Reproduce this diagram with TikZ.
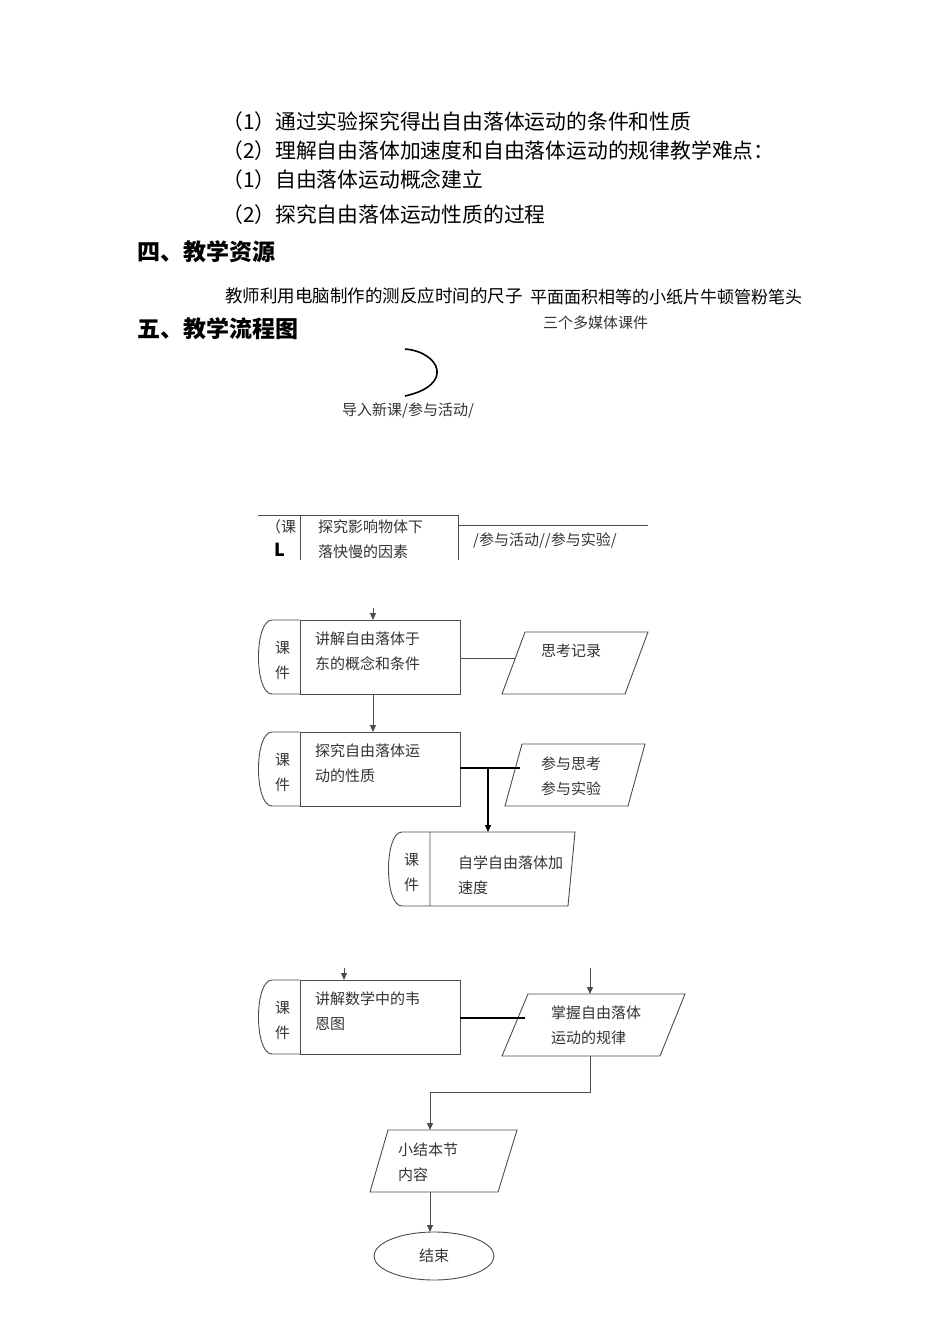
\documentclass[tikz,border=0pt]{standalone}
\usepackage{fontspec}
\setmainfont{Noto Sans CJK SC}
\usetikzlibrary{arrows.meta}
\begin{document}
\begin{tikzpicture}[x=1pt,y=-1pt,
 body/.style={anchor=west,inner sep=0pt,font=\fontsize{20.8}{24}\selectfont},
 head/.style={anchor=west,inner sep=0pt,font=\fontsize{23}{26}\selectfont\bfseries},
 small/.style={anchor=west,inner sep=0pt,font=\fontsize{15}{18}\selectfont,text=black!80},
 ln/.style={line width=0.9pt,black!70},
 thick ln/.style={line width=2pt},
 arr/.style={ln,-{Triangle[length=7pt,width=6pt]}}]
\useasboundingbox (0,0) rectangle (950,1344);
\node[body] (l1) at (222,122) {（1）通过实验探究得出自由落体运动的条件和性质};
\node[body] (l2) at (222,151) {（2）理解自由落体加速度和自由落体运动的规律教学难点：};
\node[body] (l3) at (222,180) {（1）自由落体运动概念建立};
\node[body] (l4) at (222,215) {（2）探究自由落体运动性质的过程};
\node[head] (h4) at (137,252) {四、教学资源};
\node[body,font=\fontsize{17.5}{19}\selectfont] (t1) at (225,296) {教师利用电脑制作的测反应时间的尺子};
\node[body,font=\fontsize{17}{19}\selectfont] (t2) at (530,297) {平面面积相等的小纸片牛顿管粉笔头};
\node[small] (t3) at (543,323) {三个多媒体课件};
\node[head] (h5) at (137,329) {五、教学流程图};
\draw[line width=1.6pt] (405,349) .. controls (440,352) and (455,385) .. (405,396);
\node[small] (dr) at (342,410) {导入新课/参与活动/};
% row 1
\draw[ln] (258,515) -- (458,515) (300,515) -- (300,560) (458,515) -- (458,560) (458,525) -- (648,525);
\node[small] (k0) at (266,527) {（课};
\node[inner sep=0pt,font=\fontsize{18}{20}\selectfont\bfseries] (L) at (280,550) {L};
\node[small] (r1a) at (318,527) {探究影响物体下};
\node[small] (r1b) at (318,552) {落快慢的因素};
\node[small] (r1c) at (473,540) {/参与活动//参与实验/};
% box1
\draw[ln] (300,620) -- (460,620) -- (460,694) -- (300,694) (300,620) -- (300,694);
\draw[ln] (300,620) -- (272,620) .. controls (254,620) and (254,694) .. (272,694) -- (300,694);
\node[small] (c1) at (275,648) {课}; \node[small] (c2) at (275,673) {件};
\node[small] (b1a) at (315,639) {讲解自由落体于};
\node[small] (b1b) at (315,664) {东的概念和条件};
\draw[arr] (373,608) -- (373,620);
\draw[ln] (502,694) -- (525,632) -- (648,632) -- (625,694) -- cycle;
\node[small] (p1) at (541,651) {思考记录};
\draw[ln] (460,658) -- (515,658);
\draw[arr] (373,694) -- (373,732);
% box2
\draw[ln] (300,732) -- (460,732) -- (460,806) -- (300,806) (300,732) -- (300,806);
\draw[ln] (300,732) -- (272,732) .. controls (254,732) and (254,806) .. (272,806) -- (300,806);
\node[small] (c3) at (275,760) {课}; \node[small] (c4) at (275,785) {件};
\node[small] (b2a) at (315,751) {探究自由落体运};
\node[small] (b2b) at (315,776) {动的性质};
\draw[ln] (505,806) -- (522,744) -- (645,744) -- (628,806) -- cycle;
\node[small] (p2a) at (541,764) {参与思考};
\node[small] (p2b) at (541,789) {参与实验};
\draw[thick ln] (460,768) -- (520,768);
\draw[arr,line width=1.4pt,black] (488,768) -- (488,832);
% box3
\draw[ln] (430,832) -- (575,832) -- (568,906) -- (430,906) (430,832) -- (430,906);
\draw[ln] (430,832) -- (402,832) .. controls (384,832) and (384,906) .. (402,906) -- (430,906);
\node[small] (c5) at (404,860) {课}; \node[small] (c6) at (404,885) {件};
\node[small] (b3a) at (458,863) {自学自由落体加};
\node[small] (b3b) at (458,888) {速度};
% box4
\draw[ln] (300,980) -- (460,980) -- (460,1054) -- (300,1054) (300,980) -- (300,1054);
\draw[ln] (300,980) -- (272,980) .. controls (254,980) and (254,1054) .. (272,1054) -- (300,1054);
\node[small] (c7) at (275,1008) {课}; \node[small] (c8) at (275,1033) {件};
\node[small] (b4a) at (315,999) {讲解数学中的韦};
\node[small] (b4b) at (315,1024) {恩图};
\draw[arr] (344,968) -- (344,980);
\draw[ln] (502,1056) -- (528,994) -- (685,994) -- (660,1056) -- cycle;
\node[small] (p4a) at (551,1013) {掌握自由落体};
\node[small] (p4b) at (551,1038) {运动的规律};
\draw[thick ln] (460,1018) -- (525,1018);
\draw[arr] (590,968) -- (590,994);
\draw[ln] (590,1056) -- (590,1092) -- (430,1092);
\draw[arr] (430,1092) -- (430,1130);
% box5
\draw[ln] (370,1192) -- (388,1130) -- (517,1130) -- (498,1192) -- cycle;
\node[small] (p5a) at (398,1150) {小结本节};
\node[small] (p5b) at (398,1175) {内容};
\draw[arr] (430,1192) -- (430,1232);
\draw[ln] (434,1256) ellipse[x radius=60,y radius=24];
\node[small,anchor=center] (end) at (434,1256) {结束};
\end{tikzpicture}
\end{document}
